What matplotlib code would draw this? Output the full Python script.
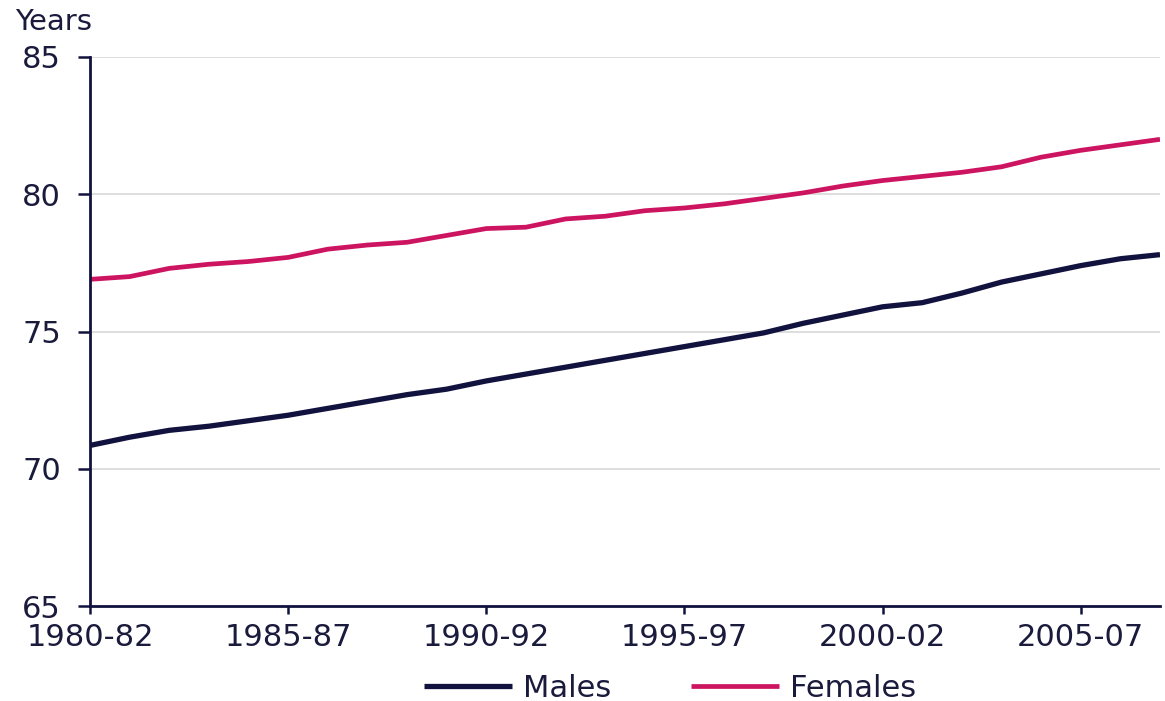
import numpy as np
import matplotlib
matplotlib.use("Agg")
import matplotlib.pyplot as plt

# life expectancy at birth, three-year rolling periods
periods = ["1980-82", "1981-83", "1982-84", "1983-85", "1984-86", "1985-87",
           "1986-88", "1987-89", "1988-90", "1989-91", "1990-92", "1991-93",
           "1992-94", "1993-95", "1994-96", "1995-97", "1996-98", "1997-99",
           "1998-00", "1999-01", "2000-02", "2001-03", "2002-04", "2003-05",
           "2004-06", "2005-07", "2006-08", "2007-09"]
males = [70.85, 71.15, 71.4, 71.55, 71.75, 71.95, 72.2, 72.45, 72.7, 72.9,
         73.2, 73.45, 73.7, 73.95, 74.2, 74.45, 74.7, 74.95, 75.3, 75.6,
         75.9, 76.05, 76.4, 76.8, 77.1, 77.4, 77.65, 77.8]
females = [76.9, 77.0, 77.3, 77.45, 77.55, 77.7, 78.0, 78.15, 78.25, 78.5,
           78.75, 78.8, 79.1, 79.2, 79.4, 79.5, 79.65, 79.85, 80.05, 80.3,
           80.5, 80.65, 80.8, 81.0, 81.35, 81.6, 81.8, 82.0]
y_ticks = [65, 70, 75, 80, 85]
x_label_every = 5

navy = "#12123f"
crimson = "#cc1460"
txt = "#1a1a3c"

fig = plt.figure(figsize=(11.65, 7.01), dpi=100)
ax = fig.add_axes([0.0773, 0.1355, 0.9184, 0.7832])

x = np.arange(len(periods))
ax.plot(x, males, color=navy, lw=3.8, label="Males", solid_capstyle="butt")
ax.plot(x, females, color=crimson, lw=3.4, label="Females", solid_capstyle="butt")

ax.set_xlim(0, len(periods) - 1)
ax.set_ylim(65, 85)
ax.set_yticks(y_ticks)
ax.set_xticks(x[::x_label_every])
ax.set_xticklabels(periods[::x_label_every])

ax.grid(axis="y", color="#d8d8d8", lw=1.2)
ax.set_axisbelow(True)
for s in ["top", "right"]:
    ax.spines[s].set_visible(False)
for s in ["left", "bottom"]:
    ax.spines[s].set_color(navy)
    ax.spines[s].set_linewidth(2)

ax.tick_params(axis="y", length=9, width=1.8, color=navy, pad=12,
               labelsize=22, labelcolor=txt)
ax.tick_params(axis="x", length=6, width=1.8, color=navy, pad=6,
               labelsize=22, labelcolor=txt)

fig.text(0.013, 0.988, "Years", ha="left", va="top", fontsize=21, color=txt)

fig.legend(loc="center", bbox_to_anchor=(0.575, 0.018), ncol=2, frameon=False,
           fontsize=22, handlelength=2.9, handletextpad=0.35, columnspacing=2.6,
           labelcolor=txt)

fig.savefig("out.png", dpi=100, facecolor="white")
